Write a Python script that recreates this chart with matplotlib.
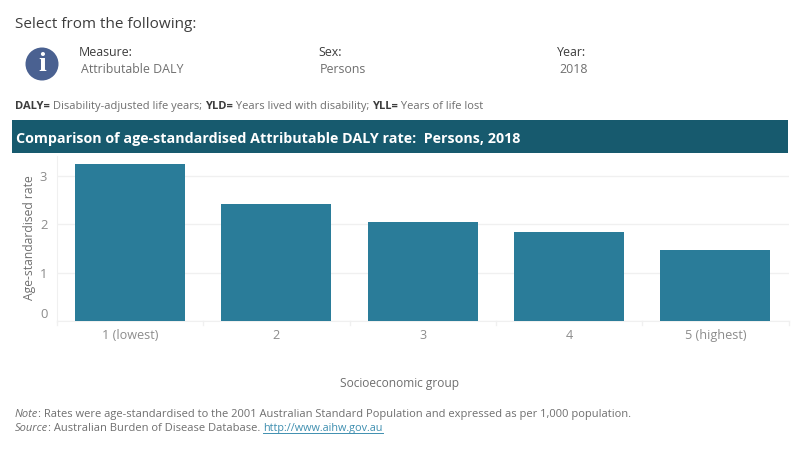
import matplotlib
matplotlib.use("Agg")
import matplotlib.pyplot as plt
from matplotlib.patches import Circle, Rectangle

plt.rcParams['font.family'] = ['Open Sans', 'DejaVu Sans']

groups = ['1 (lowest)', '2', '3', '4', '5 (highest)']
rates = [3.24, 2.42, 2.05, 1.84, 1.47]
yticks = [0, 1, 2, 3]

filters = [('Measure:', 'Attributable DALY'), ('Sex:', 'Persons'), ('Year:', '2018')]
abbrev = [('DALY=', 'bold'), (' Disability-adjusted life years; ', 'normal'),
          ('YLD=', 'bold'), (' Years lived with disability; ', 'normal'),
          ('YLL=', 'bold'), (' Years of life lost', 'normal')]

W, H = 800, 450
BAR = '#2a7c99'
HEADER = '#175a6e'
GRID = '#f0f0f0'
DARK = '#3d3d3d'
GREY = '#6f6f6f'
TICK = '#8c8c8c'

fig = plt.figure(figsize=(W / 100, H / 100), dpi=100)

# full-figure overlay in pixel coordinates for the page furniture
bg = fig.add_axes([0, 0, 1, 1])
bg.set_xlim(0, W)
bg.set_ylim(H, 0)
bg.axis('off')


def runs(x, y, parts, size, color):
    # draw text pieces one after another on the same baseline
    r = fig.canvas.get_renderer()
    for txt, weight, style, c in parts:
        t = bg.text(x, y, txt, fontsize=size, fontweight=weight, fontstyle=style,
                    color=c or color, va='baseline', ha='left')
        x += t.get_window_extent(r).width
    return x


bg.text(15, 23, 'Select from the following:', fontsize=11, color=DARK, va='center_baseline')

bg.add_patch(Circle((42, 64), 16.5, color='#4a6191', lw=0))
bg.text(42, 64.5, 'i', fontsize=20, fontweight='bold', family='Liberation Serif',
        color='white', ha='center', va='center')

for (label, value), x in zip(filters, [79, 318, 557]):
    bg.text(x, 51, label, fontsize=8.9, color=DARK, va='center_baseline')
    bg.text(x + 2, 68, value, fontsize=8.9, color=GREY, va='center_baseline')

runs(15, 109, [(t, w, 'normal', DARK if w == 'bold' else GREY) for t, w in abbrev], 8.0, GREY)

bg.add_patch(Rectangle((12, 120), 776, 33, color=HEADER, lw=0))
bg.text(16, 137, 'Comparison of age-standardised Attributable DALY rate:  Persons, 2018',
        fontsize=10.3, fontweight='bold', color='white', va='center_baseline')

bg.text(400, 382, 'Socioeconomic group', fontsize=8.6, color=GREY, ha='center', va='center_baseline')

runs(15, 417, [('Note', 'normal', 'italic', None),
               (': Rates were age-standardised to the 2001 Australian Standard Population '
                'and expressed as per 1,000 population.', 'normal', 'normal', None)], 8.05, GREY)
x_end = runs(15, 431, [('Source', 'normal', 'italic', None),
                       (': Australian Burden of Disease Database. ', 'normal', 'normal', None)],
             8.05, GREY)
link = bg.text(x_end, 431, 'http://www.aihw.gov.au', fontsize=7.8, color='#3f8fb0', va='baseline')
link_w = link.get_window_extent(fig.canvas.get_renderer()).width
bg.plot([x_end, x_end + link_w], [432.5, 432.5], color='#3f8fb0', lw=0.7)

# bar chart, axes box placed in pixels
left, right, top, bottom = 57, 788.5, 156, 321
ax = fig.add_axes([left / W, 1 - bottom / H, (right - left) / W, (bottom - top) / H])
ax.patch.set_alpha(0)
ax.bar(range(len(groups)), rates, width=0.752, color=BAR, zorder=3)
ax.set_xlim(-0.5, len(groups) - 0.5)
ax.set_ylim(0, (bottom - top) / 48.4)
ax.set_yticks(yticks)
ax.set_xticks(range(len(groups)), groups)
ax.grid(axis='y', color=GRID, lw=1, zorder=0)
ax.tick_params(axis='y', length=0, labelcolor=TICK, labelsize=9.4, pad=7)
ax.tick_params(axis='x', length=0, labelcolor=TICK, labelsize=9.1, pad=6)
for s in ['top', 'right']:
    ax.spines[s].set_visible(False)
for s in ['left', 'bottom']:
    ax.spines[s].set_color(GRID)
ax.get_yticklabels()[0].set_va('bottom')
# short separators below the axis between category bands
for i in range(len(groups) + 1):
    ax.plot([i - 0.5, i - 0.5], [0, -0.09], color=GRID, lw=1, clip_on=False)

bg.text(29, 237.5, 'Age-standardised rate', fontsize=8.7, color=GREY, rotation=90,
        ha='center', va='center')

fig.savefig('out.png', dpi=100)
